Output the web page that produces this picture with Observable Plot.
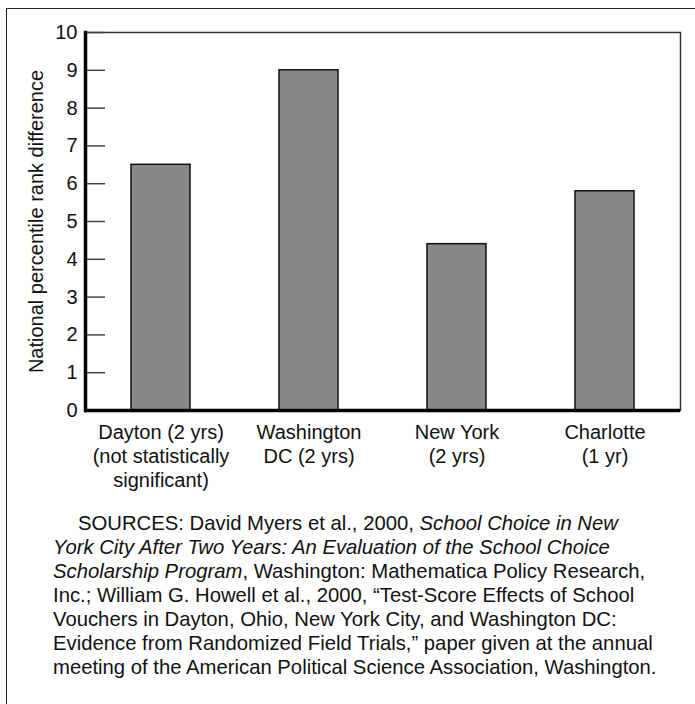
<!DOCTYPE html>
<html>
<head>
<meta charset="utf-8">
<script src="https://cdn.jsdelivr.net/npm/d3@7"></script>
<script src="https://cdn.jsdelivr.net/npm/@observablehq/plot@0.6"></script>
<style>
  html, body { margin: 0; padding: 0; background: #fff; overflow: hidden; width: 695px; height: 704px; }
  body { position: relative; font-family: "Liberation Sans", Arial, Helvetica, sans-serif; color: #111; }
  #frame { position: absolute; left: 6px; top: 8px; width: 1000px; height: 1000px; border-left: 1.5px solid #222; border-top: 1.5px solid #222; }
  #chart { position: absolute; left: 0; top: 0; }
  #caption { position: absolute; left: 53px; top: 511px; font-size: 20.3px; line-height: 24px; white-space: nowrap; color: #111; }
  #caption .first { padding-left: 25px; }
</style>
</head>
<body>
<div id="frame"></div>
<div id="chart"></div>
<div id="caption"><span class="first">SOURCES: David Myers et al., 2000, <i>School Choice in New</i></span><br><i>York City After Two Years: An Evaluation of the School Choice</i><br><i>Scholarship Program</i>, Washington: Mathematica Policy Research,<br>Inc.; William G. Howell et al., 2000, “Test-Score Effects of School<br>Vouchers in Dayton, Ohio, New York City, and Washington DC:<br>Evidence from Randomized Field Trials,” paper given at the annual<br>meeting of the American Political Science Association, Washington.</div>
<script>
const categories = ["Dayton (2 yrs)\n(not statistically\nsignificant)", "Washington\nDC (2 yrs)", "New York\n(2 yrs)", "Charlotte\n(1 yr)"];
const values = [6.5, 9.0, 4.4, 5.8];
const yTicks = [0, 1, 2, 3, 4, 5, 6, 7, 8, 9, 10];
const yLabel = "National percentile rank difference";

const data = categories.map((c, i) => ({category: c, value: values[i]}));

const chart = Plot.plot({
  width: 695,
  height: 500,
  marginLeft: 85,
  marginRight: 15,
  marginTop: 32,
  marginBottom: 90,
  style: {fontFamily: "'Liberation Sans', Arial, Helvetica, sans-serif", fontSize: "20px", color: "#111", background: "transparent"},
  x: {domain: categories, paddingInner: 0.6, paddingOuter: 0.3, label: null},
  y: {domain: [0, 10], label: null},
  marks: [
    Plot.barY(data, {x: "category", y: "value", fill: "#888888", stroke: "#111", strokeWidth: 1.5}),
    Plot.frame({stroke: "#333", strokeWidth: 1.5}),
    Plot.axisY({ticks: yTicks, tickSize: -20, tickPadding: 28, stroke: "#444", strokeWidth: 1.5, fontSize: 20, label: yLabel, labelAnchor: "center", labelArrow: "none", labelOffset: 57}),
    Plot.axisX({tickSize: 0, tickPadding: 11, fontSize: 20, lineHeight: 1.2, label: null}),
    Plot.frame({anchor: "left", stroke: "#000", strokeWidth: 3.5}),
    Plot.ruleY([0], {stroke: "#000", strokeWidth: 3.5})
  ]
});
document.getElementById("chart").appendChild(chart);
</script>
</body>
</html>
